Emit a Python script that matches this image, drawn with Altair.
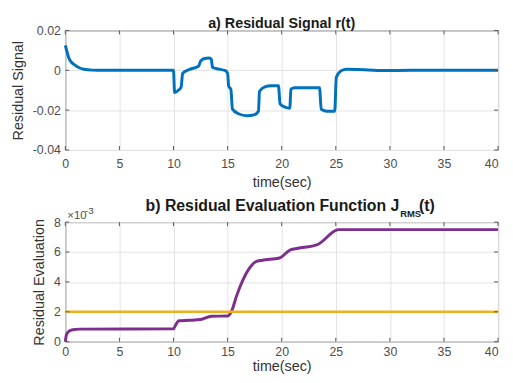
import altair as alt
import pandas as pd

# ---- data ----
t_r = [0, 0.15, 0.3, 0.5, 0.8, 1.2, 1.7, 2.5, 3.5, 10.0, 10.1, 10.5, 10.7, 10.85, 11.5, 12.3, 12.5,
       12.8, 13.3, 13.5, 13.6, 14.0, 14.8, 15.0, 15.1, 15.3, 15.45, 16.0, 16.8, 17.5, 17.85, 17.95,
       18.5, 19.0, 19.7, 19.85, 20.3, 20.75, 20.85, 21.2, 23.5, 23.65, 24.2, 24.9, 25.05, 25.5, 26.0,
       27.0, 28.0, 29.5, 32.0, 40.0]
r_vals = [0.0125, 0.0095, 0.0065, 0.0045, 0.003, 0.0015, 0.0005, 0.0001, 0.0, 0.0, -0.0112, -0.0098,
          -0.0085, -0.0015, 0.0005, 0.002, 0.0045, 0.0058, 0.0062, 0.0055, 0.0015, 0.0008, -0.0002,
          -0.0015, -0.008, -0.0095, -0.0195, -0.0218, -0.0228, -0.0222, -0.0205, -0.0105, -0.0082,
          -0.0078, -0.0078, -0.0168, -0.0185, -0.019, -0.0095, -0.0088, -0.0088, -0.0195, -0.0205,
          -0.0205, -0.0035, -0.0002, 0.0005, 0.0004, 0.0002, -0.0001, 0.0, 0.0]

t_j = [0, 0.1, 0.3, 0.7, 1.3, 10.0, 10.15, 10.5, 11.5, 12.5, 13.5, 15.0, 15.4, 15.8, 16.4, 17.0,
       17.6, 18.2, 19.8, 20.8, 21.5, 23.3, 25.0, 25.2, 40.0]
j_vals = [0, 0.45, 0.68, 0.8, 0.84, 0.86, 1.05, 1.4, 1.43, 1.48, 1.7, 1.72, 2.1, 3.0, 4.1, 4.9,
          5.35, 5.45, 5.6, 6.15, 6.25, 6.5, 7.45, 7.5, 7.5]  # x 10^-3

t_thr = [0, 40]
thr_vals = [2, 2]  # x 10^-3

x_ticks = [0, 5, 10, 15, 20, 25, 30, 35, 40]
y_ticks_a = [-0.04, -0.02, 0, 0.02]
y_ticks_b = [0, 2, 4, 6, 8]

W, H = 438, 121
FONT = "Liberation Sans"
LABEL_C = "#4d4d4d"
TICK_C = "#555555"
GRID_C = "#e3e3e3"

df_r = pd.DataFrame({"t": t_r, "v": r_vals})
df_j = pd.DataFrame({"t": t_j, "v": j_vals})
df_thr = pd.DataFrame({"t": t_thr, "v": thr_vals})
df_xt = pd.DataFrame({"t": x_ticks})

XDOM = [0, 40]
x_label_align = {"condition": {"test": "datum.value == 40", "value": "right"}, "value": "center"}


def make_x_axis(lp, tp):
    return alt.Axis(values=x_ticks, title="time(sec)", ticks=False, domain=False,
                    labelPadding=lp, titlePadding=tp, gridColor=GRID_C, labelOverlap=False,
                    labelAlign=x_label_align)


x_axis_a = make_x_axis(8, 5)
x_axis_b = make_x_axis(4, 2)
y_axis_a = alt.Axis(values=y_ticks_a, title="Residual Signal", ticks=False, domain=False,
                    labelPadding=5, titlePadding=7, gridColor=GRID_C, labelOverlap=False,
                    labelExpr="datum.value == 0 ? '0' : (datum.value < 0 ? '-' + format(-datum.value, '.2f') : format(datum.value, '.2f'))")
y_axis_b = alt.Axis(values=y_ticks_b, title="Residual Evaluation", ticks=False, domain=False,
                    labelPadding=5, titlePadding=7, gridColor=GRID_C, labelOverlap=False)


def tick_layers(y_ticks, ydom, xaxis, yaxis):
    xs = alt.X("t:Q", scale=alt.Scale(domain=XDOM), axis=xaxis)
    top = alt.Chart(df_xt).mark_rule(color=TICK_C, strokeWidth=1).encode(
        x=xs, y=alt.value(0), y2=alt.value(4))
    bot = alt.Chart(df_xt).mark_rule(color=TICK_C, strokeWidth=1).encode(
        x=xs, y=alt.value(H - 4), y2=alt.value(H))
    df_yt = pd.DataFrame({"v": y_ticks})
    ys = alt.Y("v:Q", scale=alt.Scale(domain=ydom), axis=yaxis)
    left = alt.Chart(df_yt).mark_rule(color=TICK_C, strokeWidth=1).encode(
        y=ys, x=alt.value(0), x2=alt.value(4))
    right = alt.Chart(df_yt).mark_rule(color=TICK_C, strokeWidth=1).encode(
        y=ys, x=alt.value(W - 4), x2=alt.value(W))
    return [top, bot, left, right]


# ---- panel a ----
line_r = alt.Chart(df_r).mark_line(color="#0072BD", strokeWidth=3, interpolate="monotone").encode(
    x=alt.X("t:Q", scale=alt.Scale(domain=XDOM), axis=x_axis_a),
    y=alt.Y("v:Q", scale=alt.Scale(domain=[-0.04, 0.02]), axis=y_axis_a),
)
panel_a = alt.layer(line_r, *tick_layers(y_ticks_a, [-0.04, 0.02], x_axis_a, y_axis_a)).properties(
    width=W, height=H,
    title=alt.TitleParams("a) Residual Signal r(t)", fontSize=14.5, fontWeight="bold", font=FONT,
                          color="#1a1a1a", anchor="middle", frame="group", offset=-7.5),
)

# ---- panel b ----
jb = alt.Chart(df_j).mark_line(color="#7E2F8E", strokeWidth=3, interpolate="monotone").encode(
    x=alt.X("t:Q", scale=alt.Scale(domain=XDOM), axis=x_axis_b),
    y=alt.Y("v:Q", scale=alt.Scale(domain=[0, 8]), axis=y_axis_b),
)
thr = alt.Chart(df_thr).mark_line(color="#EDB120", strokeWidth=2.5).encode(
    x=alt.X("t:Q", scale=alt.Scale(domain=XDOM), axis=x_axis_b),
    y=alt.Y("v:Q", scale=alt.Scale(domain=[0, 8]), axis=y_axis_b),
)
title_b_main = alt.Chart(pd.DataFrame({"s": ["b) Residual Evaluation Function J"]})).mark_text(
    align="right", baseline="alphabetic", font=FONT, fontSize=16, fontWeight="bold", color="#1a1a1a"
).encode(text="s:N", x=alt.value(338), y=alt.value(-11))
title_b_sub = alt.Chart(pd.DataFrame({"s": ["RMS"]})).mark_text(
    align="left", baseline="alphabetic", font=FONT, fontSize=9.5, fontWeight="bold", color="#1a1a1a"
).encode(text="s:N", x=alt.value(339), y=alt.value(-5))
title_b_end = alt.Chart(pd.DataFrame({"s": ["(t)"]})).mark_text(
    align="left", baseline="alphabetic", font=FONT, fontSize=16, fontWeight="bold", color="#1a1a1a"
).encode(text="s:N", x=alt.value(358), y=alt.value(-11))
exp_base = alt.Chart(pd.DataFrame({"s": ["×10"]})).mark_text(
    align="left", baseline="alphabetic", font=FONT, fontSize=11.5, color=LABEL_C
).encode(text="s:N", x=alt.value(2), y=alt.value(-3))
exp_pow = alt.Chart(pd.DataFrame({"s": ["-3"]})).mark_text(
    align="left", baseline="alphabetic", font=FONT, fontSize=10, color=LABEL_C
).encode(text="s:N", x=alt.value(20), y=alt.value(-8))

panel_b = alt.layer(jb, thr, *tick_layers(y_ticks_b, [0, 8], x_axis_b, y_axis_b),
                    title_b_main, title_b_sub, title_b_end, exp_base, exp_pow).properties(
    width=W, height=H)

chart = alt.vconcat(panel_a, panel_b, spacing=8).properties(
    padding={"left": 2, "top": 5.5, "right": 0, "bottom": 0},
    background="white",
).configure_view(
    stroke="#555555", strokeWidth=1
).configure_axis(
    labelFont=FONT, titleFont=FONT, labelFontSize=12.5, titleFontSize=14.5,
    labelColor=LABEL_C, titleColor="#333333", titleFontWeight="normal", grid=True,
)

chart.save("out.html", embed_options={"renderer": "svg", "actions": False})
